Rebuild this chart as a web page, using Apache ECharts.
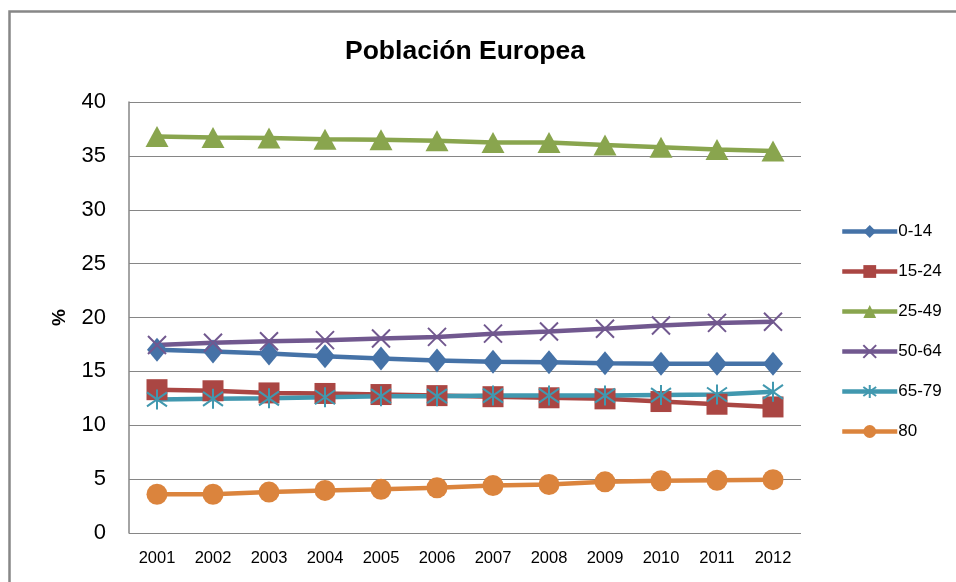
<!DOCTYPE html>
<html><head><meta charset="utf-8">
<script src="https://cdn.jsdelivr.net/npm/echarts@6/dist/echarts.min.js"></script>
<style>html,body{margin:0;padding:0;background:#fff}#c{width:956px;height:582px}</style>
</head><body><div id="c"></div>
<script>
const years = ['2001','2002','2003','2004','2005','2006','2007','2008','2009','2010','2011','2012'];
const g0_14  = [17.0,16.85,16.65,16.4,16.2,16.0,15.9,15.85,15.75,15.7,15.7,15.7];
const g15_24 = [13.3,13.2,13.0,12.95,12.85,12.75,12.65,12.55,12.45,12.2,11.95,11.7];
const g25_49 = [36.8,36.7,36.65,36.55,36.5,36.4,36.25,36.25,36.0,35.8,35.6,35.45];
const g50_64 = [17.45,17.65,17.8,17.9,18.05,18.2,18.5,18.7,18.95,19.25,19.5,19.6];
const g65_79 = [12.4,12.45,12.5,12.6,12.7,12.7,12.75,12.75,12.75,12.8,12.85,13.1];
const g80    = [3.6,3.6,3.8,3.95,4.05,4.2,4.4,4.5,4.75,4.85,4.9,4.95];
const yTicks = [0,5,10,15,20,25,30,35,40];

const font = 'Liberation Sans, Arial, sans-serif';
const xPath = 'path://M0,0L10,10M10,0L0,10';
const starPath = 'path://M5,0L5,10M0,1.5L10,8.5M10,1.5L0,8.5';

function mk(name, data, color, symbol, size, border) {
  return {
    name, type: 'line', data,
    symbol, symbolSize: size,
    lineStyle: { color, width: 4.5 },
    itemStyle: border ? { color, borderColor: color, borderWidth: border } : { color },
    emphasis: { disabled: true },
    z: 2
  };
}

const chart = echarts.init(document.getElementById('c'));
chart.setOption({
  animation: false,
  backgroundColor: '#fff',
  textStyle: { fontFamily: font },
  title: {
    text: 'Población Europea', left: 345, top: 38, padding: 0,
    textStyle: { fontFamily: font, fontSize: 26.5, fontWeight: 'bold', color: '#000' }
  },
  graphic: [{
    type: 'rect', shape: { x: 9.5, y: 11.5, width: 960, height: 600 },
    style: { fill: 'none', stroke: '#878787', lineWidth: 2.5 }, silent: true, z: -1
  }],
  grid: { left: 129, right: 155, top: 102, bottom: 49, containLabel: false },
  legend: {
    orient: 'vertical', left: 840, top: 223, padding: 0,
    itemWidth: 55, itemHeight: 16, itemGap: 23,
    lineStyle: { width: 4.5 },
    textStyle: { fontFamily: font, fontSize: 17, color: '#000', padding: [0,0,0,-4] },
    data: ['0-14','15-24','25-49','50-64','65-79','80']
  },
  xAxis: {
    type: 'category', data: years, boundaryGap: true,
    axisLine: { show: false },
    axisTick: { show: false },
    axisLabel: { fontFamily: font, fontSize: 16.5, color: '#000', margin: 17 }
  },
  yAxis: {
    type: 'value', min: yTicks[0], max: yTicks[yTicks.length-1], interval: 5,
    name: '%', nameLocation: 'middle', nameGap: 60, nameRotate: 90,
    nameTextStyle: { fontFamily: font, fontSize: 19, fontWeight: 'bold', color: '#000' },
    axisLine: { show: true, lineStyle: { color: '#868686', width: 1.5 } },
    axisTick: { show: false },
    splitLine: { lineStyle: { color: '#868686', width: 1 } },
    axisLabel: { fontFamily: font, fontSize: 22, color: '#000', margin: 23 }
  },
  series: [
    mk('0-14', g0_14, '#4572A7', 'diamond', [20, 24]),
    mk('15-24', g15_24, '#AA4643', 'rect', 21),
    mk('25-49', g25_49, '#89A54E', 'triangle', [23, 21]),
    mk('50-64', g50_64, '#71588F', xPath, 18, 2),
    mk('65-79', g65_79, '#4198AF', starPath, 20, 2),
    mk('80', g80, '#DB843D', 'circle', 21)
  ]
});
</script></body></html>
